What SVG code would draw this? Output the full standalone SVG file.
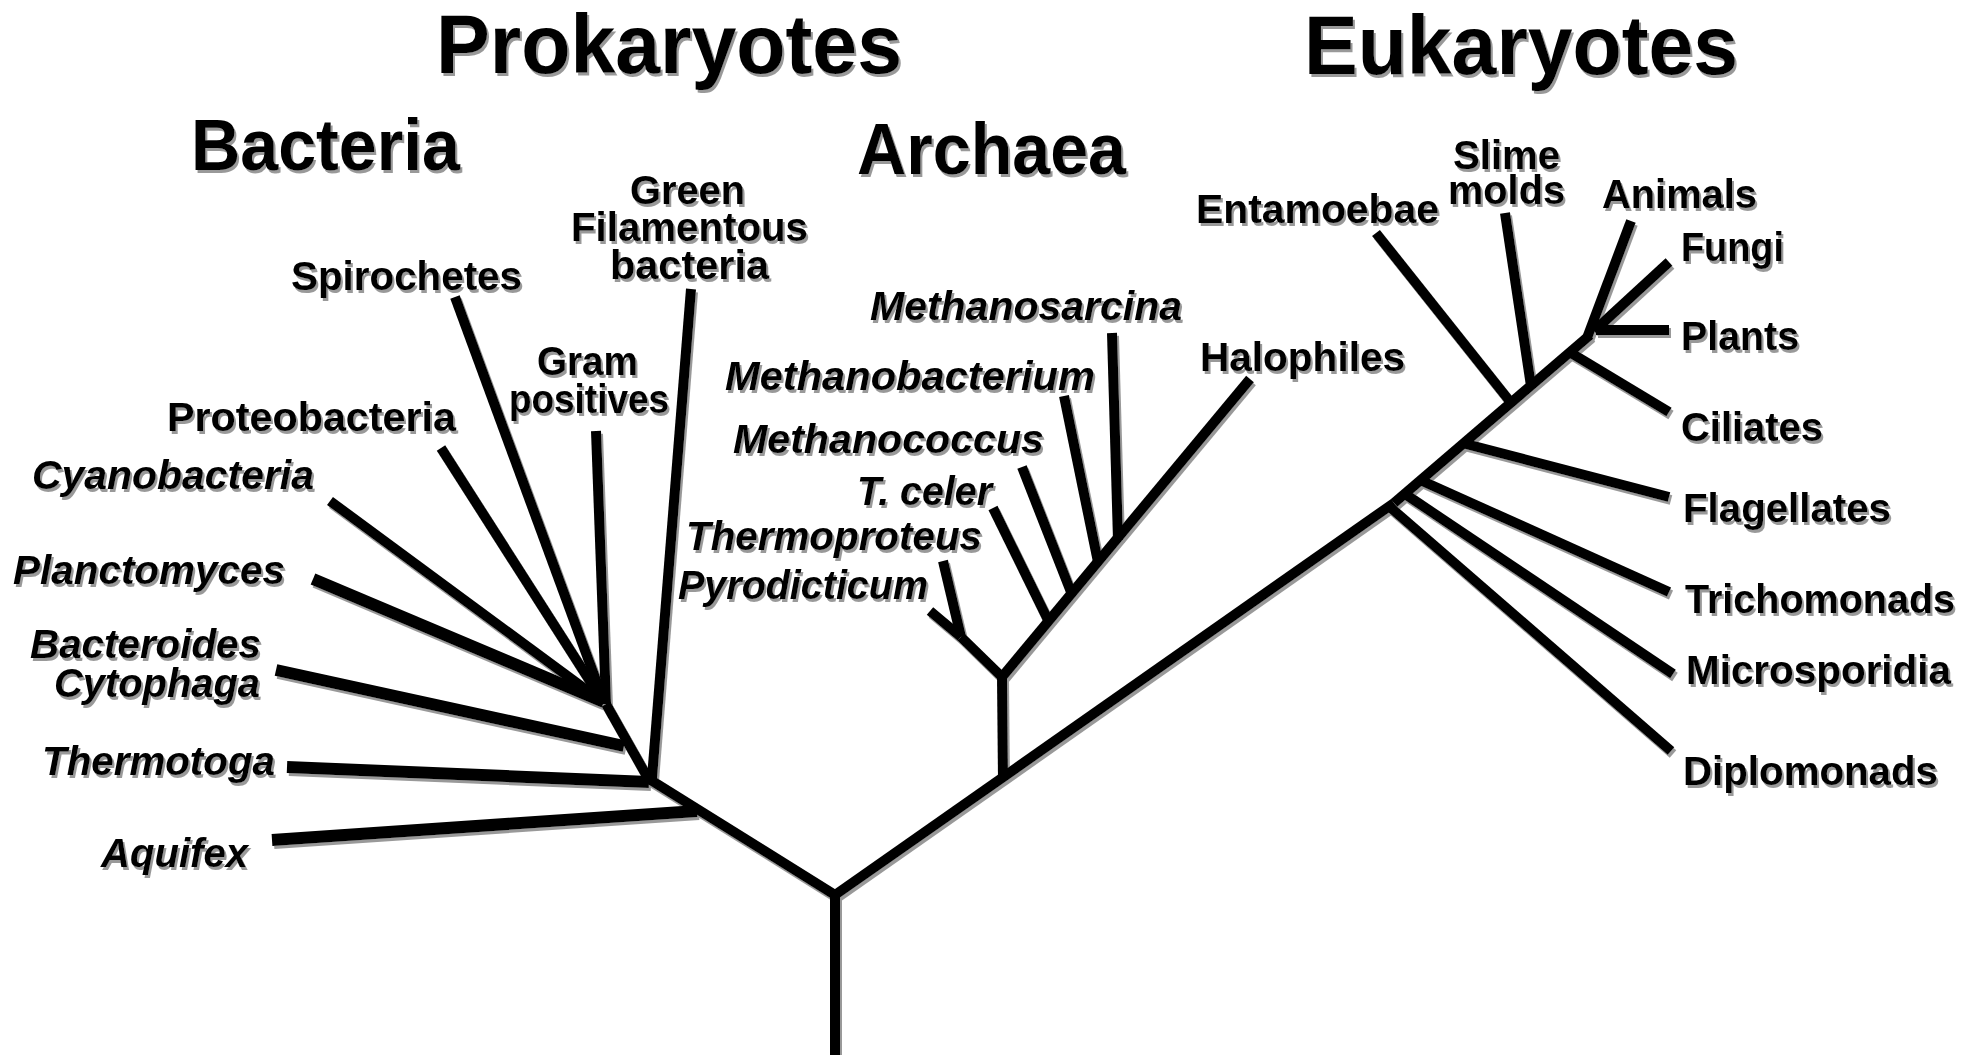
<svg xmlns="http://www.w3.org/2000/svg" width="1978" height="1055" viewBox="0 0 1978 1055">
  <defs>
    <filter id="sh" x="-5%" y="-5%" width="110%" height="110%">
      <feDropShadow dx="2" dy="3" stdDeviation="0.7" flood-color="#777" flood-opacity="0.75"/>
    </filter>
    <style>
      text { font-family: "Liberation Sans", Arial, Helvetica, sans-serif; font-weight: bold; fill: #000; }
      .title { font-size: 84px; }
      .domain { font-size: 72px; }
      .lbl { font-size: 41px; }
      .it { font-style: italic; }
      .br { stroke: #000; stroke-width: 10; fill: none; stroke-linecap: butt; stroke-linejoin: miter; }
      .bt { stroke-width: 12; }
    </style>
  </defs>
  <rect x="0" y="0" width="1978" height="1055" fill="#fff"/>
  <g filter="url(#sh)">
    <g id="connectors">
      <!-- root and main branches -->
      <path class="br" d="M835,1056 L835,895"/>
      <path class="br" d="M835,895 L649,779"/>
      <path class="br" d="M835,895 L1394,503"/>
      <!-- bacteria -->
      <path class="br bt" d="M272,840 L697,811"/>
      <path class="br bt" d="M287,767 L649,782"/>
      <path class="br bt" d="M276,670 L624,746"/>
      <path class="br" d="M649,780 L606,704"/>
      <path class="br" d="M691,289 L652,778"/>
      <path class="br bt" d="M313,579 L604,702"/>
      <path class="br" d="M330,501 L600,700"/>
      <path class="br" d="M441,448 L602,700"/>
      <path class="br" d="M455,297 L604,702"/>
      <path class="br" d="M596,431 L606,704"/>
      <!-- archaea -->
      <path class="br" d="M1003,780 L1002,677"/>
      <path class="br" d="M1002,677 L1250,379"/>
      <path class="br" d="M1002,677 L961,637"/>
      <path class="br" d="M961,637 L930,611"/>
      <path class="br" d="M961,637 L943,561"/>
      <path class="br" d="M993,508 L1048,620"/>
      <path class="br" d="M1022,467 L1071,592"/>
      <path class="br" d="M1064,396 L1098,562"/>
      <path class="br" d="M1112,333 L1118,540"/>
      <!-- eukaryotes -->
      <path class="br" d="M1394,503 L1590,335"/>
      <path class="br" d="M1391,508 L1671,751"/>
      <path class="br" d="M1405,494 L1673,674"/>
      <path class="br" d="M1420,480 L1669,592"/>
      <path class="br" d="M1466,444 L1669,497"/>
      <path class="br" d="M1376,233 L1512,404"/>
      <path class="br" d="M1505,213 L1531,386"/>
      <path class="br" d="M1571,353 L1669,412"/>
      <path class="br" d="M1596,330 L1669,330"/>
      <path class="br" d="M1594,331 L1669,262"/>
      <path class="br" d="M1587,338 L1631,221"/>
    </g>

    <g id="title-prokaryotes"><text class="title" x="436" y="73" textLength="466" lengthAdjust="spacingAndGlyphs">Prokaryotes</text></g>
    <g id="title-eukaryotes"><text class="title" x="1304" y="74" textLength="434" lengthAdjust="spacingAndGlyphs">Eukaryotes</text></g>
    <g id="domain-bacteria"><text class="domain" x="191" y="170" textLength="269" lengthAdjust="spacingAndGlyphs">Bacteria</text></g>
    <g id="domain-archaea"><text class="domain" x="857" y="174" textLength="269" lengthAdjust="spacingAndGlyphs">Archaea</text></g>

    <g id="spirochetes"><text class="lbl" x="291" y="290" textLength="231" lengthAdjust="spacingAndGlyphs">Spirochetes</text></g>
    <g id="proteobacteria"><text class="lbl" x="167" y="431" textLength="289" lengthAdjust="spacingAndGlyphs">Proteobacteria</text></g>
    <g id="cyanobacteria"><text class="lbl it" x="32" y="489" textLength="282" lengthAdjust="spacingAndGlyphs">Cyanobacteria</text></g>
    <g id="planctomyces"><text class="lbl it" x="13" y="584" textLength="272" lengthAdjust="spacingAndGlyphs">Planctomyces</text></g>
    <g id="bacteroides-cytophaga">
      <text class="lbl it"><tspan x="30" y="658" textLength="231" lengthAdjust="spacingAndGlyphs">Bacteroides</tspan><tspan x="54" y="697" textLength="206" lengthAdjust="spacingAndGlyphs">Cytophaga</tspan></text>
    </g>
    <g id="thermotoga"><text class="lbl it" x="42" y="775" textLength="233" lengthAdjust="spacingAndGlyphs">Thermotoga</text></g>
    <g id="aquifex"><text class="lbl it" x="101" y="867" textLength="147" lengthAdjust="spacingAndGlyphs">Aquifex</text></g>
    <g id="green-filamentous">
      <text class="lbl"><tspan x="630" y="204" textLength="115" lengthAdjust="spacingAndGlyphs">Green</tspan><tspan x="571" y="241" textLength="237" lengthAdjust="spacingAndGlyphs">Filamentous</tspan><tspan x="610" y="279" textLength="159" lengthAdjust="spacingAndGlyphs">bacteria</tspan></text>
    </g>
    <g id="gram-positives">
      <text class="lbl"><tspan x="537" y="375" textLength="101" lengthAdjust="spacingAndGlyphs">Gram</tspan><tspan x="509" y="413" textLength="160" lengthAdjust="spacingAndGlyphs">positives</tspan></text>
    </g>

    <g id="methanosarcina"><text class="lbl it" x="870" y="320" textLength="312" lengthAdjust="spacingAndGlyphs">Methanosarcina</text></g>
    <g id="methanobacterium"><text class="lbl it" x="725" y="390" textLength="370" lengthAdjust="spacingAndGlyphs">Methanobacterium</text></g>
    <g id="methanococcus"><text class="lbl it" x="733" y="453" textLength="311" lengthAdjust="spacingAndGlyphs">Methanococcus</text></g>
    <g id="t-celer"><text class="lbl it" x="857" y="505" textLength="135" lengthAdjust="spacingAndGlyphs">T. celer</text></g>
    <g id="thermoproteus"><text class="lbl it" x="686" y="550" textLength="296" lengthAdjust="spacingAndGlyphs">Thermoproteus</text></g>
    <g id="pyrodicticum"><text class="lbl it" x="678" y="599" textLength="250" lengthAdjust="spacingAndGlyphs">Pyrodicticum</text></g>
    <g id="halophiles"><text class="lbl" x="1200" y="371" textLength="205" lengthAdjust="spacingAndGlyphs">Halophiles</text></g>

    <g id="entamoebae"><text class="lbl" x="1196" y="223" textLength="243" lengthAdjust="spacingAndGlyphs">Entamoebae</text></g>
    <g id="slime-molds">
      <text class="lbl"><tspan x="1453" y="169" textLength="107" lengthAdjust="spacingAndGlyphs">Slime</tspan><tspan x="1448" y="204" textLength="117" lengthAdjust="spacingAndGlyphs">molds</tspan></text>
    </g>
    <g id="animals"><text class="lbl" x="1602" y="208" textLength="155" lengthAdjust="spacingAndGlyphs">Animals</text></g>
    <g id="fungi"><text class="lbl" x="1681" y="261" textLength="103" lengthAdjust="spacingAndGlyphs">Fungi</text></g>
    <g id="plants"><text class="lbl" x="1681" y="350" textLength="118" lengthAdjust="spacingAndGlyphs">Plants</text></g>
    <g id="ciliates"><text class="lbl" x="1681" y="441" textLength="142" lengthAdjust="spacingAndGlyphs">Ciliates</text></g>
    <g id="flagellates"><text class="lbl" x="1683" y="522" textLength="208" lengthAdjust="spacingAndGlyphs">Flagellates</text></g>
    <g id="trichomonads"><text class="lbl" x="1685" y="613" textLength="270" lengthAdjust="spacingAndGlyphs">Trichomonads</text></g>
    <g id="microsporidia"><text class="lbl" x="1686" y="684" textLength="265" lengthAdjust="spacingAndGlyphs">Microsporidia</text></g>
    <g id="diplomonads"><text class="lbl" x="1683" y="785" textLength="255" lengthAdjust="spacingAndGlyphs">Diplomonads</text></g>
  </g>
</svg>
